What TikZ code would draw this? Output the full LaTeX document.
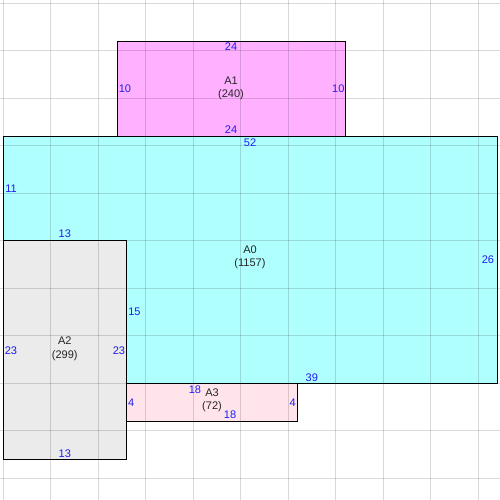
\documentclass[tikz,border=0pt]{standalone}
\usepackage{fontspec}
\setmainfont{Liberation Sans}
\definecolor{cA1}{RGB}{255,176,255}
\definecolor{cA0}{RGB}{176,255,255}
\definecolor{cA2}{RGB}{235,235,235}
\definecolor{cA3}{RGB}{255,228,236}
\definecolor{dimblue}{RGB}{30,30,240}
\begin{document}
\begin{tikzpicture}[x=0.5cm,y=-0.5cm,
  room/.style={draw=black,line width=1.4pt},
  dim/.style={text=dimblue,font=\fontsize{16.5}{19}\selectfont,inner sep=0pt},
  nm/.style={text=black!85,font=\fontsize{16.5}{19.6}\selectfont,align=center,inner sep=0pt},
  gridline/.style={draw=black,opacity=0.15,line width=1.4pt}]
\useasboundingbox[fill=white] (-0.316,-0.316) rectangle (52.316,52.316);
% fills
\fill[cA1] (12,4) rectangle (36,14);
\fill[cA0] (0,14) rectangle (52,40);
\fill[cA2] (0,25) rectangle (13,48);
\fill[cA3] (13,40) rectangle (31,44);
% grid
\foreach \i in {0,5,...,50} {
  \draw[gridline] (\i,-0.316) -- (\i,52.316);
  \draw[gridline] (-0.316,\i) -- (52.316,\i);
}
% borders
\draw[room] (12,4) rectangle (36,14);
\draw[room] (13,40) -- (52,40) -- (52,14) -- (0,14) -- (0,25);
\draw[room] (0,25) rectangle (13,48);
\draw[room] (13,40) rectangle (31,44);
% A1
\node[nm] (nA1) at (24,9.0) {A1\\(240)};
\node[dim] (a1t) at (24,4.63) {24};
\node[dim] (a1b) at (24,13.37) {24};
\node[dim] (a1l) at (12.84,9.05) {10};
\node[dim] (a1r) at (35.3,9.05) {10};
% A0
\node[nm] (nA0) at (26,26.8) {A0\\(1157)};
\node[dim] (a0t) at (26,14.74) {52};
\node[dim] (a0l) at (0.84,19.6) {11};
\node[dim] (a0r) at (51.05,27.05) {26};
\node[dim] (a0s) at (6.5,24.3) {13};
\node[dim] (a0m) at (13.84,32.5) {15};
\node[dim] (a0b) at (32.5,39.4) {39};
% A2
\node[nm] (nA2) at (6.5,36.4) {A2\\(299)};
\node[dim] (a2l) at (0.84,36.55) {23};
\node[dim] (a2r) at (12.2,36.55) {23};
\node[dim] (a2b) at (6.5,47.4) {13};
% A3
\node[nm] (nA3) at (22,41.8) {A3\\(72)};
\node[dim] (a3t) at (20.2,40.7) {18};
\node[dim] (a3b) at (23.9,43.3) {18};
\node[dim] (a3l) at (13.5,42.05) {4};
\node[dim] (a3r) at (30.5,42.05) {4};
\end{tikzpicture}
\end{document}
